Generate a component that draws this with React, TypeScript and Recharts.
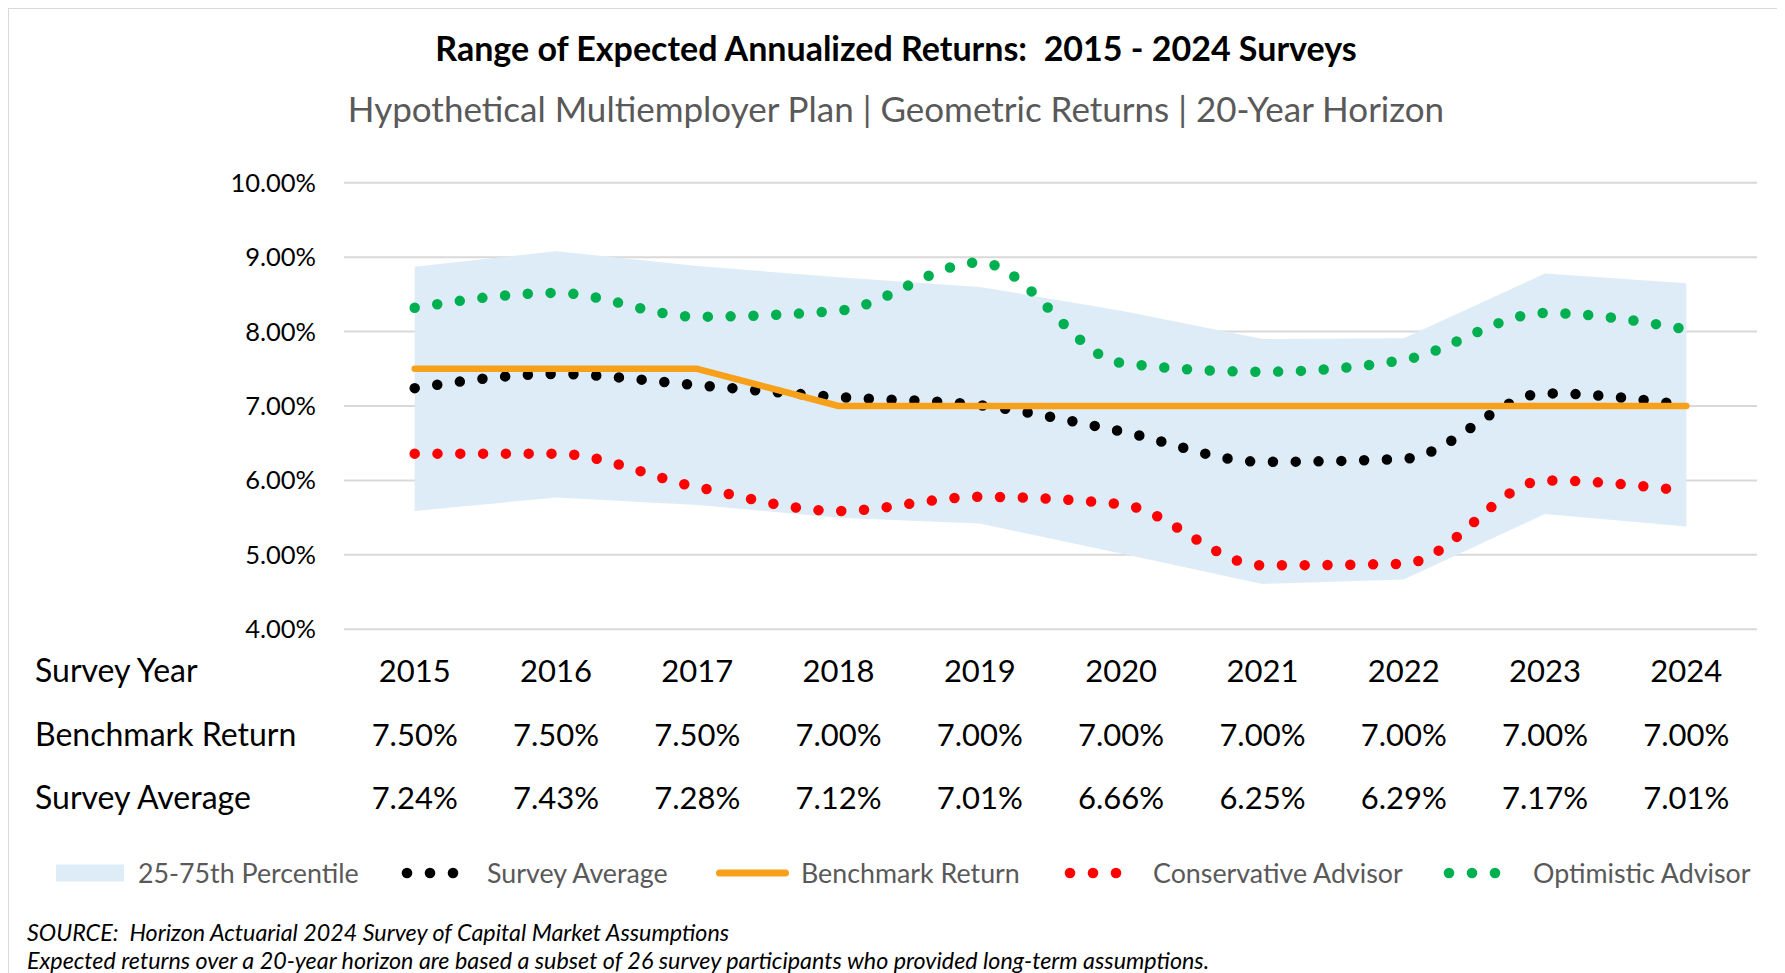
import React from "react"
import { ComposedChart, Area, Line, XAxis, YAxis, CartesianGrid } from "recharts"

// survey years (categories)
const years = ["2015", "2016", "2017", "2018", "2019", "2020", "2021", "2022", "2023", "2024"]

// values in percent
const benchmark = [7.5, 7.5, 7.5, 7.0, 7.0, 7.0, 7.0, 7.0, 7.0, 7.0]
const surveyAverage = [7.24, 7.43, 7.28, 7.12, 7.01, 6.66, 6.25, 6.29, 7.17, 7.01]
const conservative = [6.36, 6.36, 5.91, 5.59, 5.78, 5.68, 4.86, 4.88, 6.0, 5.86]
const optimistic = [8.32, 8.52, 8.2, 8.28, 8.93, 7.58, 7.46, 7.62, 8.25, 8.03]
const pct25 = [5.59, 5.77, 5.67, 5.5, 5.42, 5.02, 4.61, 4.67, 5.55, 5.38]
const pct75 = [8.87, 9.08, 8.88, 8.73, 8.6, 8.28, 7.9, 7.91, 8.78, 8.65]

const yTicks = [4, 5, 6, 7, 8, 9, 10]

const FONT = "Lato, 'Open Sans', sans-serif"
const BAND = "#DEECF7"
const ORANGE = "#F7A11A"
const RED = "#FF0000"
const GREEN = "#00B050"
const GREY_TEXT = "#595959"

const chartData = years.map((year, i) => ({
  year,
  band: [pct25[i], pct75[i]],
  benchmark: benchmark[i],
  average: surveyAverage[i],
  conservative: conservative[i],
  optimistic: optimistic[i],
}))

const fmt = (v: number) => `${v.toFixed(2)}%`

// rows of the table under the chart, offsets from the x axis line
const ROW_Y = [41, 104.5, 168]

const TableTick = (props: any) => {
  const { x, y, payload } = props
  const i = props.index ?? years.indexOf(payload.value)
  const cells = [years[i], fmt(benchmark[i]), fmt(surveyAverage[i])]
  return (
    <g>
      {cells.map((c, r) => (
        <text
          key={r}
          x={x}
          y={y + ROW_Y[r]}
          textAnchor="middle"
          dominantBaseline="central"
          fontFamily={FONT}
          fontSize={31}
          fill="#000"
        >
          {c}
        </text>
      ))}
    </g>
  )
}

const DotsIcon = ({ color }: { color: string }) => (
  <svg width={60} height={20}>
    {[6, 29, 52].map((cx) => (
      <circle key={cx} cx={cx} cy={10} r={5.3} fill={color} />
    ))}
  </svg>
)

const legendItems = [
  { label: "25-75th Percentile", left: 48, textLeft: 130, icon: <div style={{ width: 68, height: 17, background: BAND }} /> },
  { label: "Survey Average", left: 393, textLeft: 479, icon: <DotsIcon color="#000" /> },
  {
    label: "Benchmark Return",
    left: 708,
    textLeft: 793,
    icon: <div style={{ width: 73, height: 7, borderRadius: 4, background: ORANGE }} />,
  },
  { label: "Conservative Advisor", left: 1056, textLeft: 1145, icon: <DotsIcon color={RED} /> },
  { label: "Optimistic Advisor", left: 1435, textLeft: 1525, icon: <DotsIcon color={GREEN} /> },
]

const rowLabels = ["Survey Year", "Benchmark Return", "Survey Average"]

export default function App() {
  const axisY = 621.3 // plot bottom inside the container
  return (
    <div style={{ position: "relative", width: 1777, height: 965, fontFamily: FONT }}>
      <div
        style={{
          position: "absolute",
          left: 0,
          top: -1,
          width: 1777,
          height: 966,
          borderTop: "2px solid #D9D9D9",
          borderLeft: "1px solid #D9D9D9",
          boxSizing: "border-box",
        }}
      />
      <div
        style={{
          position: "absolute",
          left: 888,
          top: 40,
          transform: "translate(-50%, -50%)",
          fontSize: 34,
          fontWeight: 700,
          whiteSpace: "nowrap",
          lineHeight: 1,
          color: "#000",
        }}
      >
        Range of Expected Annualized Returns:&nbsp; 2015 - 2024 Surveys
      </div>
      <div
        style={{
          position: "absolute",
          left: 888,
          top: 100,
          transform: "translate(-50%, -50%)",
          fontSize: 35,
          whiteSpace: "nowrap",
          lineHeight: 1,
          color: GREY_TEXT,
        }}
      >
        Hypothetical Multiemployer Plan | Geometric Returns | 20-Year Horizon
      </div>

      <div style={{ position: "absolute", left: 0, top: 0 }}>
        <ComposedChart
          width={1777}
          height={965}
          data={chartData}
          margin={{ top: 174.7, right: 28, bottom: 143.7, left: 256 }}
        >
          <CartesianGrid vertical={false} stroke="#D9D9D9" strokeWidth={2} />
          <XAxis
            dataKey="year"
            axisLine={false}
            tickLine={false}
            tickSize={0}
            tickMargin={0}
            height={200}
            padding={{ left: 70.7, right: 70.7 }}
            interval={0}
            tick={<TableTick />}
          />
          <YAxis
            domain={[4, 10]}
            ticks={yTicks}
            width={80}
            axisLine={false}
            tickLine={false}
            tickSize={0}
            tickMargin={28}
            tickFormatter={fmt}
            tick={{ fontFamily: FONT, fontSize: 25.5, fill: "#000" }}
          />
          <Area
            type="linear"
            dataKey="band"
            fill={BAND}
            fillOpacity={1}
            stroke="none"
            isAnimationActive={false}
            dot={false}
            activeDot={false}
          />
          <Line
            type="monotone"
            dataKey="average"
            stroke="#000"
            strokeWidth={10.5}
            strokeDasharray="0 22.8"
            strokeLinecap="round"
            dot={false}
            activeDot={false}
            isAnimationActive={false}
          />
          <Line
            type="monotone"
            dataKey="conservative"
            stroke={RED}
            strokeWidth={10.5}
            strokeDasharray="0 22.8"
            strokeLinecap="round"
            dot={false}
            activeDot={false}
            isAnimationActive={false}
          />
          <Line
            type="monotone"
            dataKey="optimistic"
            stroke={GREEN}
            strokeWidth={10.5}
            strokeDasharray="0 22.8"
            strokeLinecap="round"
            dot={false}
            activeDot={false}
            isAnimationActive={false}
          />
          <Line
            type="linear"
            dataKey="benchmark"
            stroke={ORANGE}
            strokeWidth={6.5}
            strokeLinecap="round"
            strokeLinejoin="round"
            dot={false}
            activeDot={false}
            isAnimationActive={false}
          />
        </ComposedChart>
      </div>

      {rowLabels.map((label, r) => (
        <div
          key={label}
          style={{
            position: "absolute",
            left: 27,
            top: axisY + ROW_Y[r],
            transform: "translateY(-50%)",
            fontSize: 32,
            lineHeight: 1,
            whiteSpace: "nowrap",
            color: "#000",
          }}
        >
          {label}
        </div>
      ))}

      {legendItems.map((it) => (
        <React.Fragment key={it.label}>
          <div
            style={{
              position: "absolute",
              left: it.left,
              top: 865,
              transform: "translateY(-50%)",
              display: "flex",
              alignItems: "center",
            }}
          >
            {it.icon}
          </div>
          <div
            style={{
              position: "absolute",
              left: it.textLeft,
              top: 865,
              transform: "translateY(-50%)",
              fontSize: 26.8,
              lineHeight: 1,
              color: GREY_TEXT,
              whiteSpace: "nowrap",
            }}
          >
            {it.label}
          </div>
        </React.Fragment>
      ))}

      <div
        style={{
          position: "absolute",
          left: 19,
          top: 909.5,
          fontSize: 23.3,
          fontStyle: "italic",
          lineHeight: "28px",
          color: "#000",
          whiteSpace: "nowrap",
        }}
      >
        <div>SOURCE:&nbsp; Horizon Actuarial 2024 Survey of Capital Market Assumptions</div>
        <div>
          Expected returns over a 20-year horizon are based a subset of 26 survey participants who provided
          long-term assumptions.
        </div>
      </div>
    </div>
  )
}
